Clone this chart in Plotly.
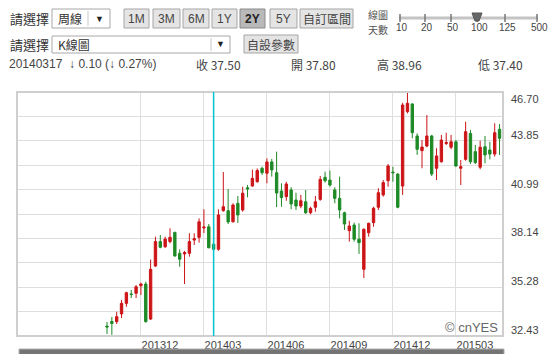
import pandas as pd
import plotly.graph_objects as go

# ---------------- data (weekly K-line) ----------------
dates = pd.date_range("2013-10-14", periods=82, freq="W-MON")

opens = [33.01, 33.28, 33.27, 33.72, 34.34, 34.89, 34.93, 35.37, 35.47, 33.42,
         36.52, 37.95, 37.65, 37.95, 38.49, 37.27, 37.23, 37.27, 38.04, 38.20,
         38.75, 38.82, 37.80, 37.50, 39.76, 39.76, 39.11, 40.19, 39.80, 41.10,
         41.20, 41.45, 42.24, 41.95, 42.61, 41.98, 40.91, 40.58, 40.97, 40.38,
         40.03, 40.28, 39.64, 39.96, 40.42, 41.71, 41.55, 40.97, 40.48, 39.64,
         38.59, 38.92, 38.09, 36.33, 38.47, 39.06, 39.96, 40.68, 41.51, 42.02,
         41.90, 41.20, 45.55, 46.00, 44.13, 43.27, 43.54, 44.13, 42.24, 42.62,
         43.69, 43.47, 43.79, 42.24, 42.76, 44.28, 43.21, 42.30, 43.50, 43.31,
         43.07, 44.52]
highs = [33.25, 33.54, 33.85, 34.54, 35.02, 35.12, 35.41, 35.55, 35.61, 36.90,
         38.24, 38.34, 38.24, 38.73, 38.53, 37.50, 37.40, 38.44, 38.44, 39.31,
         39.84, 38.98, 38.96, 39.84, 42.02, 41.03, 40.19, 40.62, 41.16, 41.26,
         42.16, 42.23, 42.33, 42.82, 42.79, 43.21, 41.36, 41.45, 41.13, 40.81,
         40.68, 40.97, 39.99, 40.62, 41.79, 42.04, 42.10, 41.13, 41.75, 39.70,
         39.17, 39.06, 39.02, 38.73, 39.06, 39.99, 41.07, 41.55, 42.49, 42.33,
         41.95, 46.07, 46.66, 46.04, 44.28, 43.89, 45.35, 44.19, 43.41, 44.19,
         44.32, 44.19, 43.89, 42.72, 44.96, 44.48, 43.60, 43.85, 44.13, 43.79,
         44.87, 44.83]
lows = [32.55, 32.50, 33.13, 33.48, 34.14, 34.65, 34.65, 34.83, 33.21, 33.37,
        36.48, 37.56, 37.58, 37.85, 37.07, 36.48, 35.47, 37.07, 37.75, 37.89,
        38.45, 37.56, 37.40, 37.42, 39.70, 38.98, 39.06, 39.04, 39.70, 40.54,
        41.16, 41.40, 41.85, 41.36, 41.75, 39.97, 39.99, 40.34, 39.84, 39.80,
        39.90, 39.57, 39.55, 39.70, 40.34, 41.40, 41.16, 40.19, 39.31, 38.63,
        37.95, 37.95, 37.23, 35.82, 38.24, 38.82, 39.80, 40.58, 41.16, 41.45,
        39.90, 40.68, 45.45, 43.99, 43.02, 42.24, 43.47, 41.79, 41.55, 42.57,
        43.60, 43.35, 42.33, 41.26, 42.68, 42.49, 42.49, 42.18, 42.53, 42.76,
        42.92, 43.02]
closes = [32.96, 33.16, 33.56, 34.34, 34.96, 34.86, 35.31, 35.47, 33.27, 36.33,
          37.95, 37.62, 38.10, 38.20, 37.11, 36.92, 37.31, 37.95, 38.12, 39.11,
          38.80, 37.59, 37.50, 39.51, 39.99, 39.10, 40.09, 39.51, 40.78, 41.03,
          41.65, 42.11, 41.98, 42.61, 42.14, 40.79, 40.52, 41.32, 40.15, 40.03,
          40.34, 39.64, 39.90, 40.28, 41.59, 41.51, 41.26, 40.48, 39.80, 38.98,
          38.86, 38.09, 37.89, 38.67, 39.02, 39.90, 40.81, 41.40, 42.37, 41.98,
          39.96, 45.94, 46.04, 44.32, 43.35, 43.48, 44.13, 41.90, 42.96, 43.89,
          43.75, 43.79, 42.37, 42.33, 44.38, 42.62, 42.57, 43.47, 43.02, 43.07,
          44.32, 43.99]

y_grid = [32.43, 33.857, 35.28, 36.711, 38.14, 39.565, 40.99, 42.419, 43.85, 45.273, 46.70]
y_labels = ["32.43", "", "35.28", "", "38.14", "", "40.99", "", "43.85", "", "46.70"]
x_ticks = ["2013-12-02", "2014-03-03", "2014-06-02", "2014-09-01", "2014-12-01", "2015-03-02"]
x_labels = ["201312", "201403", "201406", "201409", "201412", "201503"]
sel_date = "2014-03-17"
sel_info = {"date": "20140317", "chg": "↓ 0.10 (↓ 0.27%)", "close": "37.50",
            "open": "37.80", "high": "38.96", "low": "37.40"}

# ---------------- geometry ----------------
W, H = 553, 354
PL, PR, PT, PB = 17, 503, 92, 336


def fx(px):
    return (px - PL) / (PR - PL)


def fy(py):
    return (PB - py) / (PB - PT)


RED = "#cc1417"
GREEN = "#1e8a26"
TXT = "#333333"
NUM_FONT = "Liberation Sans, Arial, sans-serif"
CJK_FONT = "Noto Sans CJK TC, Liberation Sans, sans-serif"

fig = go.Figure()
fig.add_trace(go.Candlestick(
    x=dates, open=opens, high=highs, low=lows, close=closes,
    increasing=dict(line=dict(color=RED, width=1), fillcolor=RED),
    decreasing=dict(line=dict(color=GREEN, width=1), fillcolor=GREEN),
    whiskerwidth=0, showlegend=False, hoverinfo="skip",
))

shapes = []
annotations = []


def rect(x0, y0, x1, y1, fill, line="#a0a0a0", lw=1):
    shapes.append(dict(type="rect", xref="paper", yref="paper",
                       x0=fx(x0), x1=fx(x1), y0=fy(y1), y1=fy(y0),
                       fillcolor=fill, line=dict(color=line, width=lw), layer="above"))


def text(px, py, s, size=12, color=TXT, anchor="left", font=NUM_FONT):
    annotations.append(dict(xref="paper", yref="paper", x=fx(px), y=fy(py), text=s,
                            showarrow=False, xanchor=anchor, yanchor="middle",
                            font=dict(size=size, color=color, family=font)))


# plot border
shapes.append(dict(type="rect", xref="paper", yref="paper", x0=0, x1=1, y0=0, y1=1,
                   line=dict(color="#cfcfcf", width=2), layer="above"))
# selected-date crosshair
shapes.append(dict(type="line", xref="x", yref="paper", x0=sel_date, x1=sel_date, y0=0, y1=1,
                   line=dict(color="#00c4d4", width=1.5), layer="above"))

# row 1 controls
text(8, 18, "請選擇", 13, font=CJK_FONT)
rect(52, 9, 110, 28, "white", "#a8a8a8")
shapes.append(dict(type="line", xref="paper", yref="paper", x0=fx(88), x1=fx(88),
                   y0=fy(11), y1=fy(26), line=dict(color="#c8c8c8", width=1)))
text(56, 18.5, "周線", 12, font=CJK_FONT)
text(99, 18.5, "▼", 9, color="#222", anchor="center")
buttons = [("1M", 124, 149), ("3M", 153, 180), ("6M", 183, 209), ("1Y", 212, 237),
           ("2Y", 240, 265), ("5Y", 270, 297), ("自訂區間", 300, 353)]
for lab, a, b in buttons:
    sel = lab == "2Y"
    rect(a, 9, b, 28, "#b9b9b9" if sel else "#e4e4e4", "#8a8a8a" if sel else "#a5a5a5")
    text((a + b) / 2, 18.5, "<b>%s</b>" % lab if sel else lab, 12,
         color="#222" if sel else "#444", anchor="center",
         font=CJK_FONT if lab == "自訂區間" else NUM_FONT)
text(366, 14.5, "線圖", 10, color="#555", font=CJK_FONT)
text(366, 29.5, "天數", 10, color="#555", font=CJK_FONT)
shapes.append(dict(type="line", xref="paper", yref="paper", x0=fx(399), x1=fx(538),
                   y0=fy(18), y1=fy(18), line=dict(color="#c4c4c4", width=3)))
for lab, sx in [("10", 400), ("20", 425), ("50", 451), ("100", 477), ("125", 505), ("500", 537)]:
    shapes.append(dict(type="line", xref="paper", yref="paper", x0=fx(sx), x1=fx(sx),
                       y0=fy(14), y1=fy(22), line=dict(color="#777", width=1.5)))
    text(sx + 2, 28, lab, 10, color="#444", anchor="center")
shapes.append(dict(type="path", xref="paper", yref="paper", fillcolor="#666",
                   line=dict(color="#555", width=1),
                   path="M %f %f L %f %f L %f %f L %f %f Z" % (
                       fx(472), fy(13), fx(482), fy(13), fx(479), fy(21), fx(475), fy(21))))

# row 2 controls
text(8, 45, "請選擇", 13, font=CJK_FONT)
rect(52, 36, 230, 53, "white", "#a8a8a8")
shapes.append(dict(type="line", xref="paper", yref="paper", x0=fx(211), x1=fx(211),
                   y0=fy(38), y1=fy(51), line=dict(color="#c8c8c8", width=1)))
text(56, 44.5, "K線圖", 12, font=CJK_FONT)
text(220, 44.5, "▼", 9, color="#222", anchor="center")
rect(244, 35, 298, 53, "#e4e4e4", "#a5a5a5")
text(271, 44.5, "自設參數", 12, color="#444", anchor="center", font=CJK_FONT)

# row 3 info line
text(7, 64, "%s  %s" % (sel_info["date"], sel_info["chg"]), 12, color="#444")
text(194, 64, "收 " + sel_info["close"], 12, color="#444", font=CJK_FONT)
text(289, 64, "開 " + sel_info["open"], 12, color="#444", font=CJK_FONT)
text(375, 64, "高 " + sel_info["high"], 12, color="#444", font=CJK_FONT)
text(476, 64, "低 " + sel_info["low"], 12, color="#444", font=CJK_FONT)

# y-axis labels (right side, slightly above their grid lines)
for v, lab in zip(y_grid, y_labels):
    if lab:
        annotations.append(dict(xref="paper", yref="y", x=1, y=v, text=lab, showarrow=False,
                                xanchor="left", yanchor="middle", xshift=6,
                                yshift=-7 if v == max(y_grid) else 6,
                                font=dict(size=11, color="#444", family=NUM_FONT)))

# watermark
annotations.append(dict(xref="paper", yref="paper", x=1, y=fy(327), text="© cnYES",
                        showarrow=False, xanchor="right", yanchor="middle", xshift=-3,
                        font=dict(size=13, color="#666", family=NUM_FONT)))

# bottom scrollbar
rect(19, 349, 504, 358, "#747474", "#b0b0b0")

fig.update_layout(
    width=W, height=H, autosize=False,
    margin=dict(l=PL, r=W - PR, t=PT, b=H - PB),
    paper_bgcolor="white", plot_bgcolor="white",
    shapes=shapes, annotations=annotations,
    xaxis=dict(type="date", range=["2013-06-06", "2015-05-09"],
               rangeslider=dict(visible=False), automargin=False,
               tickvals=x_ticks, ticktext=x_labels, ticks="",
               showgrid=True, gridcolor="#dedede", gridwidth=1, zeroline=False,
               showline=False, ticklabelshift=19, ticklabelstandoff=1,
               tickfont=dict(size=11, color="#444", family=NUM_FONT)),
    yaxis=dict(range=[min(y_grid), max(y_grid)], tickvals=y_grid, showticklabels=False,
               automargin=False,
               showgrid=True, gridcolor="#dedede", gridwidth=1, zeroline=False,
               showline=False, side="right", ticks=""),
    hovermode=False,
)

fig.write_html("out.html", config={"responsive": False, "displayModeBar": False})
